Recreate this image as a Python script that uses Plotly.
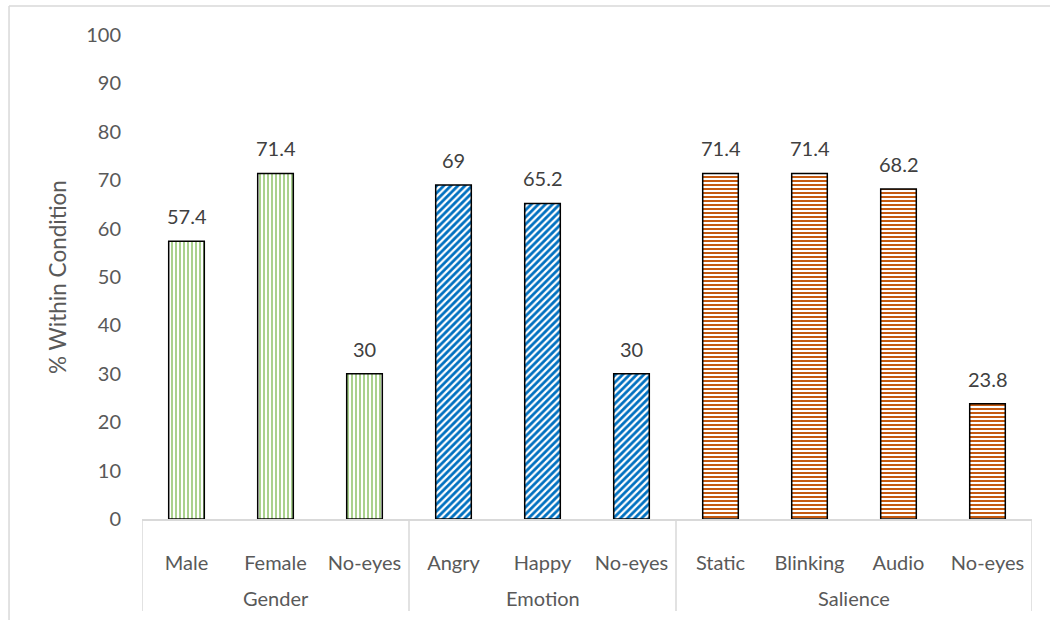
import plotly.graph_objects as go

# Percent of participants within each condition
groups = ["Gender", "Emotion", "Salience"]
gender_cats = ["Male", "Female", "No-eyes"]
gender_vals = [57.4, 71.4, 30]
emotion_cats = ["Angry", "Happy", "No-eyes"]
emotion_vals = [69, 65.2, 30]
salience_cats = ["Static", "Blinking", "Audio", "No-eyes"]
salience_vals = [71.4, 71.4, 68.2, 23.8]

y_ticks = list(range(0, 101, 10))

FONT = "Lato, 'Open Sans', sans-serif"
TEXT_GREY = "#595959"
LINE_GREY = "#D9D9D9"

styles = {
    "Gender": dict(shape="|", fg="#A9D18E", size=4, solidity=0.5),
    "Emotion": dict(shape="/", fg="#0070C0", size=5, solidity=0.55),
    "Salience": dict(shape="-", fg="#C55A11", size=4, solidity=0.5),
}

series = [
    ("Gender", gender_cats, gender_vals),
    ("Emotion", emotion_cats, emotion_vals),
    ("Salience", salience_cats, salience_vals),
]

fig = go.Figure()
tick_pos, tick_text = [], []
boundaries = [-0.5]
pos = 0
for grp, cats, vals in series:
    st = styles[grp]
    xs = list(range(pos, pos + len(cats)))
    pos += len(cats)
    boundaries.append(pos - 0.5)
    tick_pos += xs
    tick_text += cats
    fig.add_trace(go.Bar(
        x=xs,
        y=vals,
        width=0.4,
        marker=dict(
            color="white",
            line=dict(color="black", width=1.5),
            pattern=dict(shape=st["shape"], fgcolor=st["fg"], bgcolor="white",
                         fgopacity=1, size=st["size"], solidity=st["solidity"],
                         fillmode="replace"),
        ),
        showlegend=False,
        hoverinfo="skip",
    ))
    for x, v in zip(xs, vals):
        fig.add_annotation(
            x=x, y=v, xref="x", yref="y",
            text=f"{v:g}", showarrow=False, yanchor="bottom", yshift=11,
            font=dict(family=FONT, size=20, color="#404040"),
        )
    # group name under the category labels
    fig.add_annotation(
        x=(xs[0] + xs[-1]) / 2, y=0, xref="x", yref="paper",
        text=grp, showarrow=False, yanchor="middle", yshift=-79,
        font=dict(family=FONT, size=20, color=TEXT_GREY),
    )

# group dividers below the axis
shapes = [
    dict(type="line", xref="x", yref="paper", x0=b, x1=b, y0=0, y1=-0.19,
         line=dict(color=LINE_GREY, width=1.5))
    for b in boundaries
]
# chart frame
shapes += [
    dict(type="line", xref="paper", yref="paper", x0=-0.1494, x1=1.05,
         y0=1.0599, y1=1.0599, line=dict(color=LINE_GREY, width=1.5)),
    dict(type="line", xref="paper", yref="paper", x0=-0.1494, x1=-0.1494,
         y0=1.0599, y1=-0.3, line=dict(color=LINE_GREY, width=1.5)),
]

fig.update_layout(
    width=1050, height=620,
    margin=dict(l=142, r=18, t=35, b=101),
    paper_bgcolor="white", plot_bgcolor="white",
    barmode="overlay",
    font=dict(family=FONT, size=20, color=TEXT_GREY),
    xaxis=dict(
        range=[-0.5, pos - 0.5],
        tickvals=tick_pos, ticktext=tick_text,
        showline=True, linecolor=LINE_GREY, linewidth=1.5,
        showgrid=False, zeroline=False, ticks="", ticklabelstandoff=25,
        tickfont=dict(family=FONT, size=20, color=TEXT_GREY),
    ),
    yaxis=dict(
        range=[0, 100], tickvals=y_ticks, showgrid=False, zeroline=False,
        showline=False, ticks="", ticklabelstandoff=20,
        tickfont=dict(family=FONT, size=20, color=TEXT_GREY),
        title=dict(text="% Within Condition", standoff=13,
                   font=dict(family=FONT, size=22.5, color=TEXT_GREY)),
    ),
    shapes=shapes,
)

fig.write_html("out.html")
